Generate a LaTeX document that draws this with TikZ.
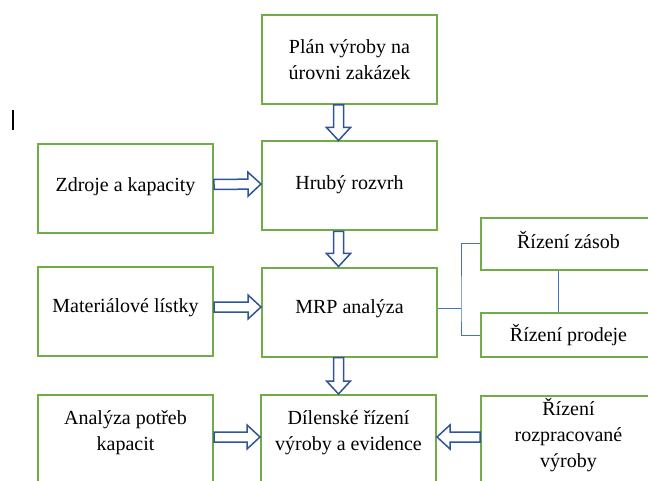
\documentclass[tikz,border=0pt]{standalone}
\usepackage{fontspec}
\setmainfont{Liberation Serif}
\usetikzlibrary{positioning, calc}

\definecolor{boxgreen}{HTML}{70AD47}
\definecolor{arrowblue}{HTML}{2F5597}
\definecolor{linkblue}{HTML}{4472C4}

\tikzset{
  box/.style={draw=boxgreen, line width=2pt, minimum width=175pt, minimum height=89pt,
    align=center, inner sep=2pt, font=\fontsize{20}{26}\selectfont},
  lowbox/.style={box, minimum height=90pt, text depth=18pt},
  link/.style={draw=linkblue, line width=1pt},
  blockarr/.style={draw=arrowblue, line width=1.5pt, fill=white, line join=miter},
}

% hollow block arrow between two anchors
\newcommand{\blockarrow}[2]{%
  \draw[blockarr] let \p1=(#1), \p2=(#2),
      \n1={atan2(\y2-\y1,\x2-\x1)}, \n2={veclen(\x2-\x1,\y2-\y1)} in
    [shift={(\p1)}, rotate=\n1]
    (0pt,5pt) -- (\n2-13pt,5pt) -- (\n2-13pt,12pt) -- (\n2,0pt)
    -- (\n2-13pt,-12pt) -- (\n2-13pt,-5pt) -- (0pt,-5pt) -- cycle;
}

\begin{document}
\begin{tikzpicture}[x=1pt, y=1pt]
  \clip (0,0) rectangle (648,-481);

  \node[box] (plan) at (349.5,-59.5) {Plán výroby na\\ úrovni zakázek};
  \node[box, text depth=7pt] (hruby) at (349.5,-186) {Hrubý rozvrh};
  \node[box, text depth=7pt] (zdroje) at (125.5,-188.5) {Zdroje a kapacity};
  \node[box, text depth=10pt] (material) at (125.5,-311) {Materiálové lístky};
  \node[box, text depth=10pt] (mrp) at (349.5,-312) {MRP analýza};
  \node[box, minimum height=52pt, text depth=8pt] (zasob) at (568.5,-244) {Řízení zásob};
  \node[box, minimum height=44pt] (prodeje) at (568.5,-335) {Řízení prodeje};
  \node[lowbox] (analyza) at (125.5,-440) {Analýza potřeb\\ kapacit};
  \node[lowbox] (dilna) at (348.5,-440) {Dílenské řízení\\ výroby a evidence};
  \node[lowbox, text depth=16pt] (rozprac) at (568.5,-440.5) {Řízení\\ rozpracované\\ výroby};

  % block arrows
  \blockarrow{[xshift=-11pt]plan.south}{[xshift=-11pt]hruby.north}
  \blockarrow{[xshift=-11pt]hruby.south}{[xshift=-11pt]mrp.north}
  \blockarrow{[xshift=-11pt]mrp.south}{[xshift=-10pt]dilna.north}
  \blockarrow{[yshift=4pt]zdroje.east}{[yshift=2pt]hruby.west}
  \blockarrow{[yshift=4pt]material.east}{[yshift=5pt]mrp.west}
  \blockarrow{[yshift=3pt]analyza.east}{[yshift=3pt]dilna.west}
  \blockarrow{[yshift=3.5pt]rozprac.west}{[yshift=3pt]dilna.east}

  % thin links on the right
  \coordinate (split) at (461,-308);
  \draw[link] ([yshift=4pt]mrp.east) -- (split);
  \draw[link] (zasob.west) -| (split) |- (prodeje.west);
  \draw[link] ([xshift=-10.5pt]zasob.south) -- ([xshift=-10.5pt]prodeje.north);

  % text cursor
  \draw[line width=1.2pt] (13,-110) -- (13,-130);
\end{tikzpicture}
\end{document}
